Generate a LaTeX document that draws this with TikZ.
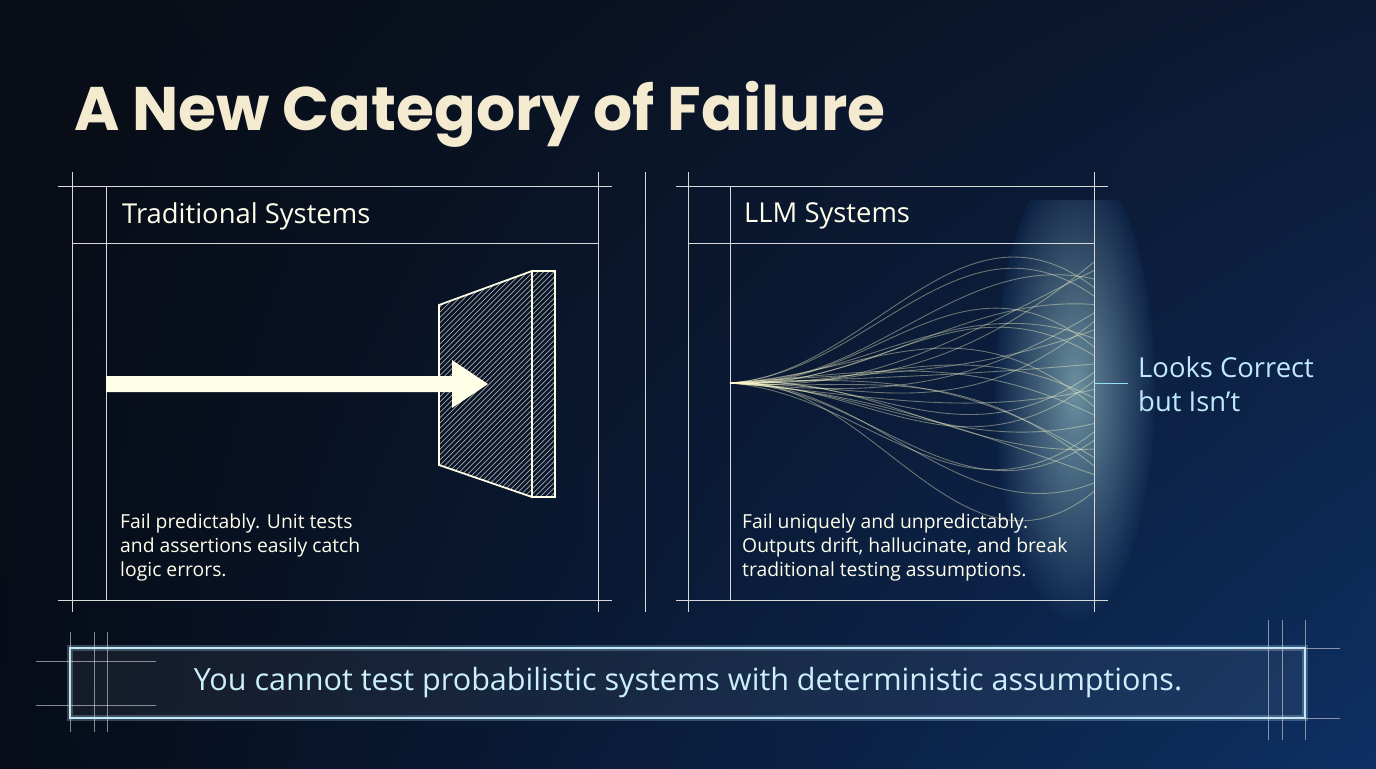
\documentclass[tikz,border=0pt]{standalone}
\usepackage{fontspec}
\setmainfont{Open Sans}
\newfontfamily\headfont{Poppins}
\usetikzlibrary{arrows.meta}
\usetikzlibrary{calc}
\usetikzlibrary{patterns}
\usetikzlibrary{shadings}
\definecolor{bgtl}{RGB}{8,12,20}
\definecolor{bgtr}{RGB}{12,26,52}
\definecolor{bgbl}{RGB}{6,12,24}
\definecolor{bgbr}{RGB}{14,48,100}
\definecolor{glowbg}{RGB}{14,40,80}
\definecolor{cream}{RGB}{244,234,208}
\begin{document}
\begin{tikzpicture}[x=0.02cm, y=-0.02cm,
        frame_style/.style={draw=white!70!gray, line width=0.45pt},
        glow_style/.style={draw=cyan!25!white, line width=1.2pt},
        head_style/.style={anchor=west, text=white!92!yellow, font=\fontsize{15.6}{18}\selectfont},
        body_style/.style={anchor=north west, align=left, text=white!92!yellow, font=\fontsize{11}{13.6}\selectfont},
        fan_style/.style={draw=white!80!yellow, line width=0.5pt, opacity=0.4}]

        % background
        \shade[upper left=bgtl, upper right=bgtr, lower left=bgbl, lower right=bgbr]
               (0,0) rectangle (1376,768);
        \useasboundingbox (0,0) rectangle (1376,768);

        \node [anchor=base west, text=cream, font=\headfont\bfseries\fontsize{35}{40}\selectfont] (title) at (68,130) {A New Category of Failure};

        % left panel
        \draw [frame_style] (58,186) -- (612,186);
        \draw [frame_style] (58,600) -- (612,600);
        \draw [frame_style] (72,243) -- (598,243);
        \draw [frame_style] (72,172) -- (72,612);
        \draw [frame_style] (106,186) -- (106,600);
        \draw [frame_style] (598,172) -- (598,612);
        \node [head_style] (tradhead) at (116,216) {Traditional Systems};
        \node [body_style] (tradtext) at (114,508) {Fail predictably. Unit tests\\and assertions easily catch\\logic errors.};

        % wall
        \filldraw [draw=white!90!yellow, line width=1pt, pattern=north east lines, pattern color=gray!70]
                (439,305) -- (532,271) -- (532,497) -- (439,465) -- cycle;
        \filldraw [draw=white!90!yellow, line width=1pt, pattern=north east lines, pattern color=gray!70]
                (532,271) rectangle (555,497);
        \coordinate (arrowtip) at (488,384);
        \fill [white!90!yellow] (106,376) -- (452,376) -- (452,360) -- (arrowtip) -- (452,408) -- (452,392) -- (106,392) -- cycle;

        % divider
        \draw [frame_style] (645,172) -- (645,612);

        % right panel
        \begin{scope}
          \clip (900,200) rectangle (1200,640);
          \shade [inner color=white!80!cyan, outer color=glowbg, opacity=0.5]
                (1075,390) ellipse (80 and 230);
        \end{scope}
        \draw [frame_style] (676,186) -- (1108,186);
        \draw [frame_style] (676,600) -- (1108,600);
        \draw [frame_style] (688,243) -- (1094,243);
        \draw [frame_style] (688,172) -- (688,612);
        \draw [frame_style] (730,186) -- (730,600);
        \draw [frame_style] (1094,172) -- (1094,612);
        \node [head_style] (llmhead) at (738,216) {LLM Systems};
        \node [body_style] (llmtext) at (736,508) {Fail uniquely and unpredictably.\\Outputs drift, hallucinate, and break\\traditional testing assumptions.};

        % fan of outputs
        \coordinate (origin) at (730,383);
        \foreach \i in {0,...,27} {
            \pgfmathsetmacro{\ey}{262+\i*8.5}
            \pgfmathsetmacro{\ca}{383+12*sin(\i*77)}
            \pgfmathsetmacro{\cb}{\ey+110*cos(\i*53)}
            \draw [fan_style] (origin) .. controls (870,\ca) and (960,\cb) .. (1094,\ey);
        }
        \draw [frame_style, cyan!40!white] (1094,383) -- (1128,383);
        \node [anchor=west, align=left, text=cyan!25!white, font=\fontsize{15.6}{19.5}\selectfont] (verdict) at (1132,384) {Looks Correct\\but Isn’t};

        % banner
        \fill [white, opacity=0.06] (70,648) rectangle (1305,718);
        \draw [glow_style, line width=3pt, opacity=0.25] (70,648) rectangle (1305,718);
        \draw [glow_style] (70,648) rectangle (1305,718);
        \foreach \x in {70,94,107} \draw [frame_style, draw opacity=0.6] (\x,632) -- (\x,732);
        \foreach \y in {661,705} \draw [frame_style, draw opacity=0.6] (36,\y) -- (156,\y);
        \foreach \x in {1268,1282,1305} \draw [frame_style, draw opacity=0.6] (\x,620) -- (\x,740);
        \foreach \y in {648,718} \draw [frame_style, draw opacity=0.6] (1230,\y) -- (1340,\y);
        \node [text=cyan!20!white, font=\fontsize{17.4}{20}\selectfont] (claim) at (688,683) {You cannot test probabilistic systems with deterministic assumptions.};
\end{tikzpicture}
\end{document}
